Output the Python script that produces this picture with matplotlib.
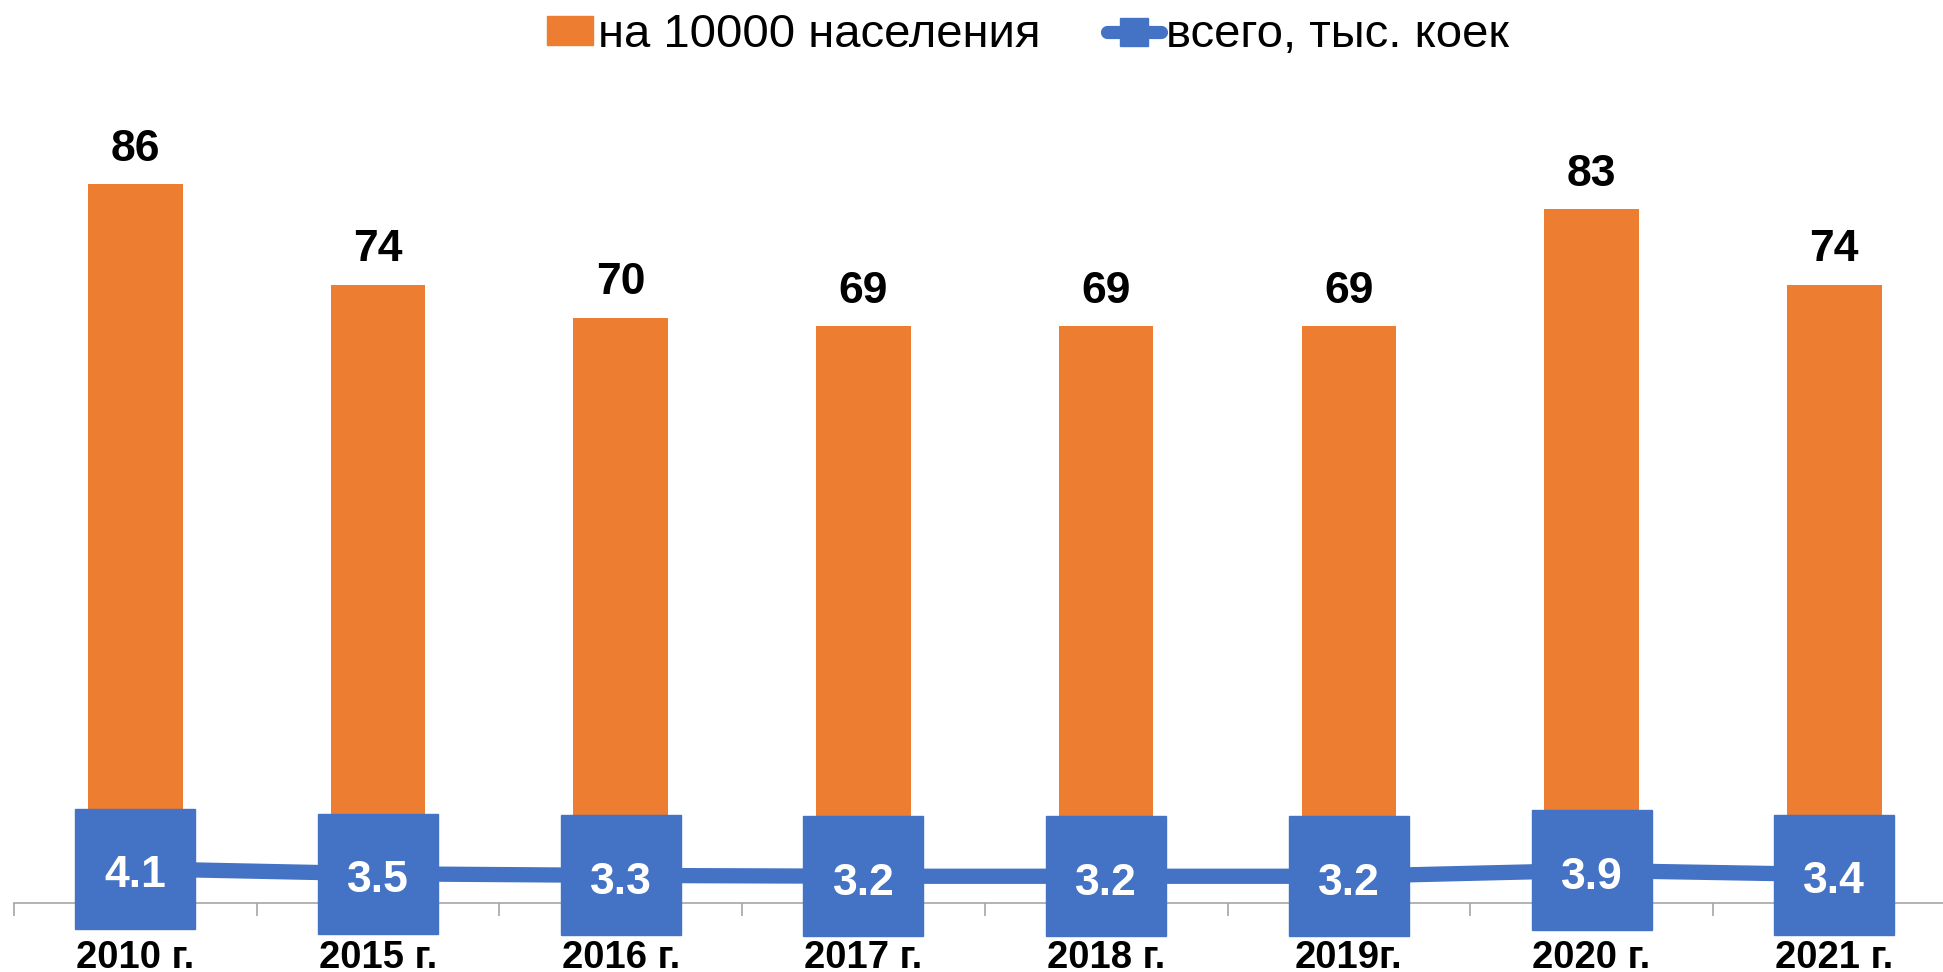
import matplotlib.pyplot as plt
import numpy as np
from matplotlib.lines import Line2D
from matplotlib.patches import Patch, Rectangle
from matplotlib.legend_handler import HandlerPatch

plt.rcParams['font.family'] = ['Liberation Sans', 'DejaVu Sans']

years = ['2010 г.', '2015 г.', '2016 г.', '2017 г.', '2018 г.', '2019г.', '2020 г.', '2021 г.']
per_10000 = [86, 74, 70, 69, 69, 69, 83, 74]
total_thousand = [4.1, 3.5, 3.3, 3.2, 3.2, 3.2, 3.9, 3.4]

orange = '#ED7D31'
blue = '#4472C4'

fig = plt.figure(figsize=(19.43, 9.72), dpi=100)
ax = fig.add_axes([0.0072, 0.071, 0.9993, 0.821])

x = np.arange(len(years))
ax.bar(x, per_10000, width=0.39, color=orange, zorder=2)
ax.plot(x, total_thousand, color=blue, lw=11, marker='s', markersize=86,
        zorder=4, clip_on=False)

for xi, v in zip(x, per_10000):
    ax.annotate(str(v), (xi, v), xytext=(0, 17), textcoords='offset points',
                ha='center', va='baseline', fontsize=32, fontweight='bold')
for xi, v in zip(x, total_thousand):
    ax.annotate('{:.1f}'.format(v), (xi, v), xytext=(0, -5), textcoords='offset points',
                ha='center', va='center', fontsize=32, fontweight='bold',
                color='white', zorder=5)

ax.set_xlim(-0.5, len(years) - 0.5)
ax.set_ylim(0, 95.5)
ax.set_yticks([])
for s in ['top', 'right', 'left']:
    ax.spines[s].set_visible(False)
ax.spines['bottom'].set_color('#A6A6A6')
ax.spines['bottom'].set_linewidth(1.2)

ax.set_xticks(x)
ax.set_xticklabels(years, fontsize=27.5, fontweight='bold')
ax.tick_params(axis='x', which='major', length=0, pad=27)
ax.set_xticks(np.arange(len(years) + 1) - 0.5, minor=True)
ax.tick_params(axis='x', which='minor', length=9, width=1.2, color='#A6A6A6')


# narrower orange box in the legend, pushed against its text
def small_box(legend, orig_handle, xdescent, ydescent, width, height, fontsize):
    w = width * 0.85
    return Rectangle((-xdescent + width - w, -ydescent), w, height)


handles = [Patch(color=orange),
           Line2D([0], [0], color=blue, lw=9.5, marker='s', markersize=20,
                  solid_capstyle='round')]
fig.legend(handles, ['на 10000 населения', 'всего, тыс. коек'],
           loc='upper center', bbox_to_anchor=(0.527, 1.03), ncol=2, frameon=False,
           fontsize=34, handlelength=1.15, handleheight=0.56, handletextpad=0.1,
           columnspacing=1.4,
           handler_map={Patch: HandlerPatch(patch_func=small_box)})

fig.savefig('out.png', dpi=100)
